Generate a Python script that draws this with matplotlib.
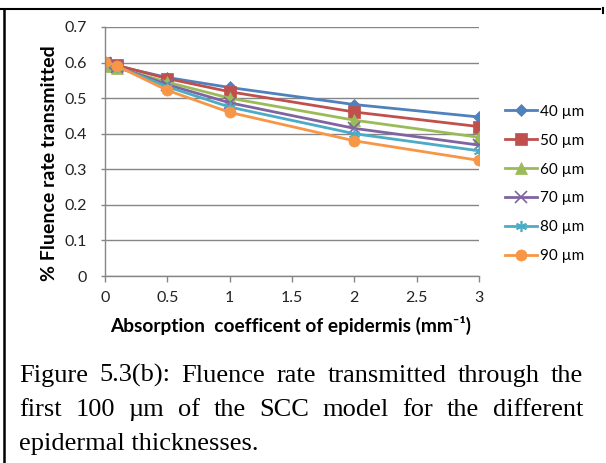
import matplotlib
matplotlib.use("Agg")
import matplotlib.pyplot as plt
from matplotlib.lines import Line2D

# absorption coefficient of epidermis (mm^-1)
mu_a = [0, 0.1, 0.5, 1, 2, 3]

thickness_labels = ["40 µm", "50 µm", "60 µm", "70 µm", "80 µm", "90 µm"]
t40 = [0.595, 0.590, 0.558, 0.530, 0.482, 0.447]
t50 = [0.600, 0.592, 0.555, 0.518, 0.461, 0.420]
t60 = [0.590, 0.585, 0.545, 0.500, 0.438, 0.390]
t70 = [0.598, 0.588, 0.538, 0.487, 0.415, 0.368]
t80 = [0.600, 0.588, 0.532, 0.475, 0.400, 0.352]
t90 = [0.603, 0.590, 0.522, 0.460, 0.380, 0.325]
series = [t40, t50, t60, t70, t80, t90]

y_ticks = [0, 0.1, 0.2, 0.3, 0.4, 0.5, 0.6, 0.7]
x_ticks = [0, 0.5, 1, 1.5, 2, 2.5, 3]

caption_lines = [
    "Figure 5.3(b): Fluence rate transmitted through the",
    "first 100 µm of the SCC model for the different",
    "epidermal thicknesses.",
]

# Excel 2007 default palette
colors = ['#4F81BD', '#C0504D', '#9BBB59', '#8064A2', '#4BACC6', '#F79646']
markers = ['D', 's', '^', 'x', (6, 2, 0), 'o']
msizes = [6, 8, 8, 8, 8, 8]

W, H = 606, 463
fig = plt.figure(figsize=(W / 100, H / 100), dpi=100)
chart_font = ['Lato', 'DejaVu Sans']
serif_font = ['Liberation Serif', 'DejaVu Serif']

ax = fig.add_axes([105 / W, 1 - 276 / H, (479 - 105) / W, (276 - 27) / H])

handles = []
for vals, lab, c, m, ms in zip(series, thickness_labels, colors, markers, msizes):
    thin = m == 'x' or isinstance(m, tuple)
    ln, = ax.plot(mu_a, vals, color=c, lw=2.0, marker=m, ms=ms,
                  markeredgecolor=c, markeredgewidth=1.2 if thin else 0.5, label=lab)
    handles.append(ln)

ax.set_xlim(0, 3)
ax.set_ylim(0, 0.7)
ax.set_xticks(x_ticks)
ax.set_yticks(y_ticks)
ax.set_xticklabels([f"{v:g}" for v in x_ticks], family=chart_font, fontsize=11.5, color='#222222')
ax.set_yticklabels([f"{v:g}" for v in y_ticks], family=chart_font, fontsize=11.5, color='#222222')
ax.tick_params(axis='x', direction='out', length=4, width=1, color='#868686', pad=7)
ax.tick_params(axis='y', direction='out', length=3, width=1, color='#868686', pad=10)
ax.grid(axis='y', color='#868686', lw=1.0)
ax.set_axisbelow(True)
for side in ('top', 'right'):
    ax.spines[side].set_visible(False)
for side in ('left', 'bottom'):
    ax.spines[side].set_color('#868686')
    ax.spines[side].set_linewidth(1.0)

fig.text(50 / W, 1 - 163 / H, "% Fluence rate transmitted", rotation=90,
         ha='center', va='center', fontsize=14, fontweight='bold', family=chart_font)
fig.text(291 / W, 1 - 325 / H, "Absorption  coefficent of epidermis (mm⁻¹)",
         ha='center', va='center', fontsize=13.8, fontweight='bold', family=chart_font)

leg = fig.legend(handles=handles, loc='center left', bbox_to_anchor=(505 / W, 1 - 184 / H),
                 frameon=False, handlelength=2.1, handletextpad=0.2, labelspacing=0.98,
                 borderpad=0, borderaxespad=0, prop={'family': chart_font, 'size': 11})

# caption, first two lines justified between x=19 and x=583
renderer = fig.canvas.get_renderer()
left_px, right_px = 19, 583
baselines = [382, 416, 450]
cap_size = 19
for i, line in enumerate(caption_lines):
    yb = 1 - baselines[i] / H
    if i == len(caption_lines) - 1:
        fig.text(left_px / W, yb, line, fontsize=cap_size, family=serif_font, va='baseline', ha='left')
        continue
    words = line.split(" ")
    texts = [fig.text(0, yb, w, fontsize=cap_size, family=serif_font, va='baseline', ha='left')
             for w in words]
    widths = [t.get_window_extent(renderer).width for t in texts]
    gap = (right_px - left_px - sum(widths)) / (len(words) - 1)
    x = left_px
    for t, w in zip(texts, widths):
        t.set_x(x / W)
        x += w + gap

# page border fragments
fig.add_artist(Line2D([0, 600 / W], [1 - 8.5 / H] * 2, color='black', lw=1.5))
fig.add_artist(Line2D([3.5 / W] * 2, [0, 1 - 8.5 / H], color='black', lw=1.8))
fig.add_artist(Line2D([603 / W] * 2, [1 - 8 / H, 1 - 13 / H], color='black', lw=1.5))

fig.savefig("out.png", dpi=100)
